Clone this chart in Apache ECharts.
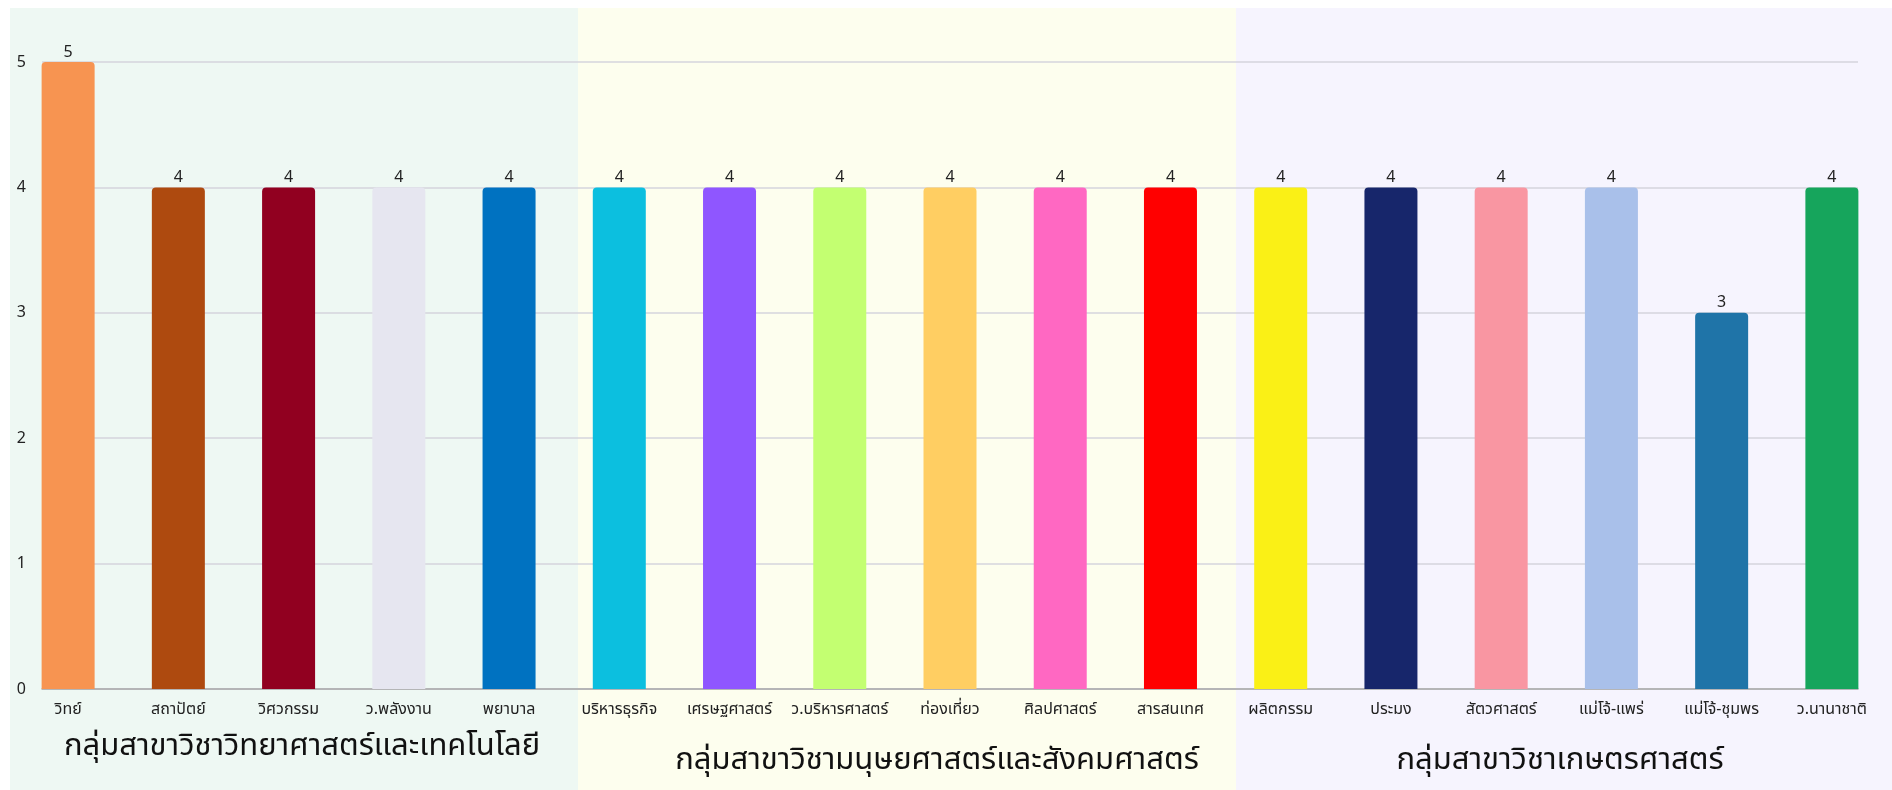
<!DOCTYPE html>
<html>
<head>
<meta charset="utf-8">
<script src="https://cdn.jsdelivr.net/npm/echarts@6/dist/echarts.min.js"></script>
<style>
html,body{margin:0;padding:0;background:#fff;}
#chart{width:1892px;height:790px;}
</style>
</head>
<body>
<div id="chart"></div>
<script>
const categories = ['วิทย์','สถาปัตย์','วิศวกรรม','ว.พลังงาน','พยาบาล','บริหารธุรกิจ','เศรษฐศาสตร์','ว.บริหารศาสตร์','ท่องเที่ยว','ศิลปศาสตร์','สารสนเทศ','ผลิตกรรม','ประมง','สัตวศาสตร์','แม่โจ้-แพร่','แม่โจ้-ชุมพร','ว.นานาชาติ'];
const values = [5,4,4,4,4,4,4,4,4,4,4,4,4,4,4,3,4];
const barColors = ['#F79451','#AE4A0F','#910020','#E6E6F0','#0072C1','#0CBFDF','#8F56FF','#C3FF71','#FFCE62','#FF68C2','#FF0000','#FAF016','#17266B','#F996A2','#A9C0EA','#1F74A8','#16A55C'];
const groupTitles = ['กลุ่มสาขาวิชาวิทยาศาสตร์และเทคโนโลยี','กลุ่มสาขาวิชามนุษยศาสตร์และสังคมศาสตร์','กลุ่มสาขาวิชาเกษตรศาสตร์'];
const groupColors = ['#EEF8F3','#FDFEEE','#F6F4FE'];
const yMin = 0, yMax = 5, yStep = 1;

const FONT = "'Noto Sans', 'Noto Sans Thai', sans-serif";
const chart = echarts.init(document.getElementById('chart'), null, {renderer:'canvas'});

const bgRects = [[10,578],[578,1236],[1236,1892]];
const titlePos = [[302,746],[937,760],[1560,760]];
const graphic = [];
bgRects.forEach((r,i)=>{
  graphic.push({type:'rect', z:-100, silent:true, shape:{x:r[0], y:8, width:r[1]-r[0], height:782}, style:{fill:groupColors[i]}});
});
groupTitles.forEach((t,i)=>{
  graphic.push({type:'text', z:10, x:titlePos[i][0], y:titlePos[i][1], style:{text:t, fontSize:31, fontFamily:FONT, fill:'#111', align:'center', verticalAlign:'middle'}});
});

chart.setOption({
  backgroundColor:'#fff',
  animation:false,
  graphic: graphic,
  grid:[
    {left:13, right:5, top:62, bottom:101},
    {left:42, right:34, top:62, bottom:101}
  ],
  xAxis:[
    {type:'category', gridIndex:0, data:categories, boundaryGap:true,
     axisLine:{show:false}, axisTick:{show:false},
     axisLabel:{interval:0, fontSize:16, color:'#222', fontFamily:FONT, margin:12}},
    {type:'value', gridIndex:1, min:0, max:1, axisLabel:{show:false}, axisTick:{show:false}, splitLine:{show:false},
     axisLine:{show:true, lineStyle:{color:'#a8a8a8', width:1.5}}}
  ],
  yAxis:[
    {type:'value', gridIndex:0, min:yMin, max:yMax, interval:yStep, show:false},
    {type:'value', gridIndex:1, min:yMin, max:yMax, interval:yStep,
     axisLine:{show:false}, axisTick:{show:false},
     axisLabel:{fontSize:16, color:'#222', fontFamily:FONT, margin:16},
     splitLine:{lineStyle:{color:'#d4d4dc', width:1.5}}}
  ],
  series:[{
    type:'bar', xAxisIndex:0, yAxisIndex:0, barWidth:53, z:3,
    data: values.map((v,i)=>({value:v, itemStyle:{color:barColors[i], borderRadius:[4,4,0,0]}})),
    label:{show:true, position:'top', distance:2, fontSize:16, color:'#222', fontFamily:FONT}
  }]
});
</script>
</body>
</html>
